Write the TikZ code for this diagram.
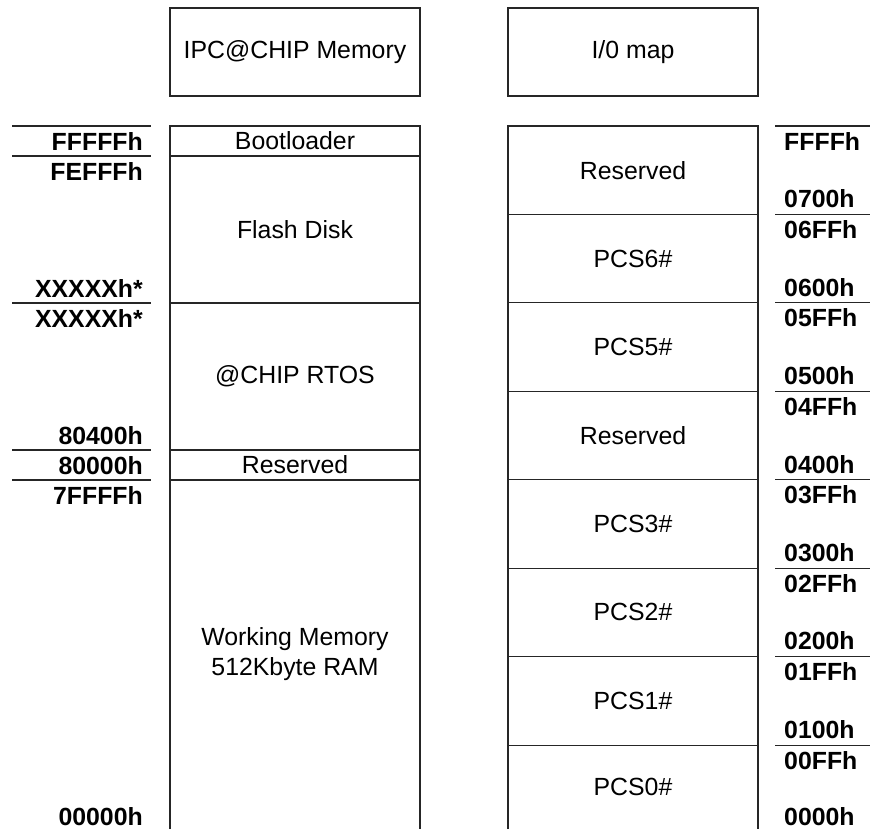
\documentclass[tikz,border=0pt]{standalone}
\usepackage{fontspec}
\setmainfont{Liberation Sans}
\usetikzlibrary{positioning}

\begin{document}
\begin{tikzpicture}[seg/.style={rectangle,draw=black!85,line width=0.9pt,minimum width=7.5cm,inner sep=0pt,outer sep=0pt,align=center,font=\fontsize{21.2}{25.6}\selectfont},hdr/.style={seg,minimum height=2.64cm},addr/.style={inner sep=0pt,font=\fontsize{21.2}{25.6}\selectfont\bfseries},tick/.style={draw=black!85,line width=0.9pt}]
    \useasboundingbox (0,0) rectangle (26.1,-24.87);
    \node[hdr] (memhdr) at (8.85,-1.56) {IPC@CHIP Memory};
    \node[hdr] (iohdr) [right=2.64cm of memhdr] {I/0 map};
    % memory column
    \node[seg,minimum height=0.9cm] (boot) [below=0.9cm of memhdr] {Bootloader};
    \node[seg,minimum height=4.41cm] (flash) [below=0pt of boot] {Flash Disk};
    \node[seg,minimum height=4.41cm] (rtos) [below=0pt of flash] {@CHIP RTOS};
    \node[seg,minimum height=0.9cm] (resv) [below=0pt of rtos] {Reserved};
    \node[seg,minimum height=10.47cm,draw=none] (ram) [below=0pt of resv] {Working Memory\\512Kbyte RAM};
    \draw[tick] (ram.south west) -- (ram.north west) -- (ram.north east) -- (ram.south east);
    \draw[tick] ([xshift=-4.74cm]boot.north west) -- ([xshift=-0.57cm]boot.north west);
    \draw[tick] ([xshift=-4.74cm]boot.south west) -- ([xshift=-0.57cm]boot.south west);
    \draw[tick] ([xshift=-4.74cm]flash.south west) -- ([xshift=-0.57cm]flash.south west);
    \draw[tick] ([xshift=-4.74cm]rtos.south west) -- ([xshift=-0.57cm]rtos.south west);
    \draw[tick] ([xshift=-4.74cm]resv.south west) -- ([xshift=-0.57cm]resv.south west);
    \node[addr,anchor=base east] (a1) at ([xshift=-0.81cm,yshift=-0.72cm]boot.north west) {FFFFFh};
    \node[addr,anchor=base east] (a2) at ([xshift=-0.81cm,yshift=-0.72cm]flash.north west) {FEFFFh};
    \node[addr,anchor=base east] (a3) at ([xshift=-0.81cm,yshift=0.18cm]flash.south west) {XXXXXh*};
    \node[addr,anchor=base east] (a4) at ([xshift=-0.81cm,yshift=-0.72cm]rtos.north west) {XXXXXh*};
    \node[addr,anchor=base east] (a5) at ([xshift=-0.81cm,yshift=0.18cm]rtos.south west) {80400h};
    \node[addr,anchor=base east] (a6) at ([xshift=-0.81cm,yshift=-0.72cm]resv.north west) {80000h};
    \node[addr,anchor=base east] (a7) at ([xshift=-0.81cm,yshift=-0.72cm]ram.north west) {7FFFFh};
    \node[addr,anchor=base east] (a8) at ([xshift=-0.81cm,yshift=0.12cm]ram.south west) {00000h};
    % I/O column
    \node[seg,minimum height=2.653cm] (r7) [below=0.9cm of iohdr] {Reserved};
    \node[seg,minimum height=2.653cm] (r6) [below=0pt of r7] {PCS6\#};
    \node[seg,minimum height=2.653cm] (r5) [below=0pt of r6] {PCS5\#};
    \node[seg,minimum height=2.653cm] (r4) [below=0pt of r5] {Reserved};
    \node[seg,minimum height=2.653cm] (r3) [below=0pt of r4] {PCS3\#};
    \node[seg,minimum height=2.653cm] (r2) [below=0pt of r3] {PCS2\#};
    \node[seg,minimum height=2.653cm] (r1) [below=0pt of r2] {PCS1\#};
    \node[seg,minimum height=2.52cm,draw=none] (r0) [below=0pt of r1] {PCS0\#};
    \draw[tick] (r0.south west) -- (r0.north west) -- (r0.north east) -- (r0.south east);
    \draw[tick] ([xshift=0.51cm]r7.north east) -- ([xshift=3.36cm]r7.north east);
    \draw[tick] ([xshift=0.51cm]r7.south east) -- ([xshift=3.36cm]r7.south east);
    \draw[tick] ([xshift=0.51cm]r6.south east) -- ([xshift=3.36cm]r6.south east);
    \draw[tick] ([xshift=0.51cm]r5.south east) -- ([xshift=3.36cm]r5.south east);
    \draw[tick] ([xshift=0.51cm]r4.south east) -- ([xshift=3.36cm]r4.south east);
    \draw[tick] ([xshift=0.51cm]r3.south east) -- ([xshift=3.36cm]r3.south east);
    \draw[tick] ([xshift=0.51cm]r2.south east) -- ([xshift=3.36cm]r2.south east);
    \draw[tick] ([xshift=0.51cm]r1.south east) -- ([xshift=3.36cm]r1.south east);
    \node[addr,anchor=base west] (b1) at ([xshift=0.78cm,yshift=-0.72cm]r7.north east) {FFFFh};
    \node[addr,anchor=base west] (b2) at ([xshift=0.78cm,yshift=0.2cm]r7.south east) {0700h};
    \node[addr,anchor=base west] (b3) at ([xshift=0.78cm,yshift=-0.72cm]r6.north east) {06FFh};
    \node[addr,anchor=base west] (b4) at ([xshift=0.78cm,yshift=0.2cm]r6.south east) {0600h};
    \node[addr,anchor=base west] (b5) at ([xshift=0.78cm,yshift=-0.72cm]r5.north east) {05FFh};
    \node[addr,anchor=base west] (b6) at ([xshift=0.78cm,yshift=0.2cm]r5.south east) {0500h};
    \node[addr,anchor=base west] (b7) at ([xshift=0.78cm,yshift=-0.72cm]r4.north east) {04FFh};
    \node[addr,anchor=base west] (b8) at ([xshift=0.78cm,yshift=0.2cm]r4.south east) {0400h};
    \node[addr,anchor=base west] (b9) at ([xshift=0.78cm,yshift=-0.72cm]r3.north east) {03FFh};
    \node[addr,anchor=base west] (b10) at ([xshift=0.78cm,yshift=0.2cm]r3.south east) {0300h};
    \node[addr,anchor=base west] (b11) at ([xshift=0.78cm,yshift=-0.72cm]r2.north east) {02FFh};
    \node[addr,anchor=base west] (b12) at ([xshift=0.78cm,yshift=0.2cm]r2.south east) {0200h};
    \node[addr,anchor=base west] (b13) at ([xshift=0.78cm,yshift=-0.72cm]r1.north east) {01FFh};
    \node[addr,anchor=base west] (b14) at ([xshift=0.78cm,yshift=0.2cm]r1.south east) {0100h};
    \node[addr,anchor=base west] (b15) at ([xshift=0.78cm,yshift=-0.72cm]r0.north east) {00FFh};
    \node[addr,anchor=base west] (b16) at ([xshift=0.78cm,yshift=0.12cm]r0.south east) {0000h};
\end{tikzpicture}
\end{document}
